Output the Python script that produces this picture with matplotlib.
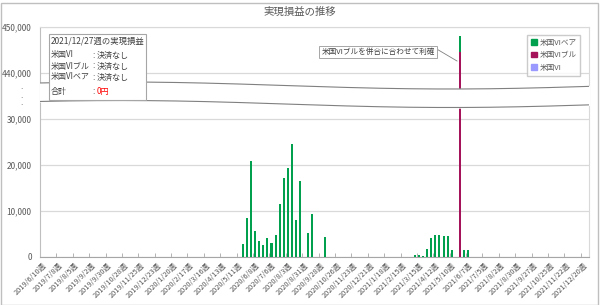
import numpy as np
import pandas as pd
import matplotlib
matplotlib.use('Agg')
import matplotlib.pyplot as plt
from matplotlib.patches import Rectangle, Patch

plt.rcParams['font.family'] = ['Noto Sans CJK JP', 'DejaVu Sans']

# weekly categories
weeks = pd.date_range('2019-06-10', periods=134, freq='7D')
week_labels = [f'{d.year}/{d.month}/{d.day}週' for d in weeks]

# realised profit per week (yen)
bear_weeks = [49, 50, 51, 52, 53, 54, 55, 56, 57, 58, 59, 60, 61, 62, 63, 65, 66, 69,
              91, 92, 93, 94, 95, 96, 97, 98, 99, 100, 102, 103, 104]
bear_values = [2800, 8550, 20800, 5650, 3500, 2600, 4050, 3050, 4850, 11500, 17200, 19400,
               24600, 8050, 16600, 5200, 9250, 4450,
               400, 400, 250, 1800, 4200, 4800, 4850, 4550, 4550, 1450, 3400, 1500, 1500]
bull_weeks = [102]
bull_values = [444600]
vi_weeks = []
vi_values = []

ytick_values = [0, 10000, 20000, 30000, 440000, 450000]
series_names = ['米国VI', '米国VIブル', '米国VIベア']
colors = ['#9999FF', '#A5145A', '#00A04E']

W, H = 600, 305


def to_series(idx, vals):
    s = np.zeros(len(weeks))
    s[idx] = vals
    return s


def disp(v):
    # broken axis: values above 35,000 are shifted down by 400,000
    v = np.asarray(v, dtype=float)
    return np.where(v > 35000, v - 400000, v)


vi = to_series(vi_weeks, vi_values)
bull = to_series(bull_weeks, bull_values)
bear = to_series(bear_weeks, bear_values)

fig = plt.figure(figsize=(6.0, 3.05), dpi=100)
ax = fig.add_axes([40 / W, (H - 257) / H, 549 / W, 230 / H])

x = np.arange(len(weeks))
bottom = np.zeros(len(weeks))
for s, c, name in zip([vi, bull, bear], colors, series_names):
    b0 = disp(bottom)
    b1 = disp(bottom + s)
    ax.bar(x, b1 - b0, bottom=b0, width=0.5, color=c, zorder=3, label=name)
    bottom = bottom + s

ax.set_xlim(-0.5, len(weeks) - 0.5)
ax.set_ylim(0, 50000)
ax.set_yticks(disp(ytick_values))
ax.set_yticklabels([f'{v:,}' for v in ytick_values], fontsize=6, color='#595959')
ax.yaxis.grid(True, color='#D9D9D9', lw=0.9, zorder=0)
ax.tick_params(axis='y', length=0, pad=6)

ax.set_xticks(x[::4])
ax.set_xticklabels(week_labels[::4], rotation=45, ha='right', rotation_mode='anchor',
                   fontsize=5.3, color='#595959')
ax.set_xticks(np.arange(-0.5, len(weeks), 4), minor=True)
ax.tick_params(axis='x', which='major', length=0, pad=3)
ax.tick_params(axis='x', which='minor', direction='in', length=3, color='#A6A6A6')

for sp in ['top', 'right']:
    ax.spines[sp].set_color('#D9D9D9')
ax.spines['left'].set_color('#BFBFBF')
ax.spines['bottom'].set_color('#A6A6A6')

# wavy break band
xx = np.linspace(-0.5, len(weeks) - 0.5, 300)
px = 40 + (xx + 0.5) / len(weeks) * 549
wave = 3.5 * np.sin(2 * np.pi * (px - 285) / 660)
up = (257 - (85.5 + wave)) / 46 * 10000
lo = (257 - (104 + wave)) / 46 * 10000
ax.fill_between(xx, lo, up, color='white', zorder=4)
ax.plot(xx, up, color='#808080', lw=0.8, zorder=5)
ax.plot(xx, lo, color='#808080', lw=0.8, zorder=5)
for yy in [86.7, 95, 102.7]:
    fig.text(21.5 / W, 1 - yy / H, '.', ha='center', va='center', fontsize=6, color='#595959')

fig.text(0.5, 1 - 12 / H, '実現損益の推移', ha='center', va='center', fontsize=7.5, color='#595959')

# info box
fig.patches.append(Rectangle((49 / W, 1 - 100 / H), 97 / W, 66 / H, transform=fig.transFigure,
                             facecolor='white', edgecolor='#A6A6A6', lw=0.8, zorder=6))
fig.text(51 / W, 1 - 41 / H, '2021/12/27週の実現損益', fontsize=6, va='center',
         color='#404040', zorder=7)
info = [(55, '米国VI', '決済なし', '#404040'), (66, '米国VIブル', '決済なし', '#404040'),
        (77, '米国VIベア', '決済なし', '#404040'), (91, '合計', '0円', '#FF0000')]
for yy, a, b, c in info:
    fig.text(51 / W, 1 - yy / H, a, fontsize=5.8, va='center', color='#404040', zorder=7)
    fig.text(92 / W, 1 - yy / H, ':', fontsize=5.8, va='center', color='#404040', zorder=7)
    fig.text(97 / W, 1 - yy / H, b, fontsize=5.8, va='center', color=c, zorder=7)

# callout
fig.text(378 / W, 1 - 52 / H, '米国VIブルを併合に合わせて利確', fontsize=5.5, ha='center',
         va='center', color='#404040',
         bbox=dict(boxstyle='square,pad=0.25', fc='white', ec='#A6A6A6', lw=0.7))
fig.add_artist(plt.Line2D([435 / W, 457 / W], [1 - 48 / H, 1 - 61 / H], color='#808080', lw=0.6))

handles = [Patch(color=colors[2]), Patch(color=colors[1]), Patch(color=colors[0])]
fig.legend(handles, series_names[::-1], loc='upper right', bbox_to_anchor=(584 / W, 1 - 31 / H),
           fontsize=5.5, frameon=True, fancybox=False, edgecolor='#BFBFBF',
           handlelength=0.8, handleheight=0.8, handletextpad=0.3, borderpad=0.5,
           labelspacing=0.6, labelcolor='#595959')

fig.patches.append(Rectangle((0.5 / W, 0.5 / H), 597 / W, 302 / H, transform=fig.transFigure,
                             fill=False, edgecolor='#BFBFBF', lw=1))

fig.savefig('out.png', dpi=100)
